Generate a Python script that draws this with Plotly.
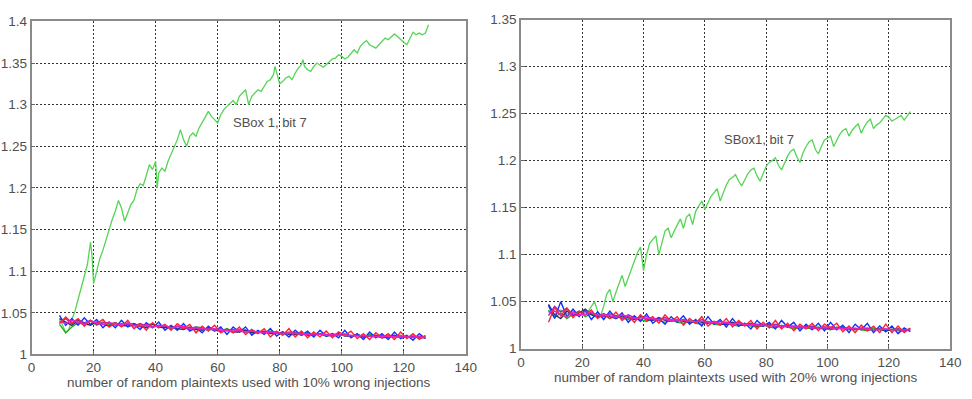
import plotly.graph_objects as go

# ---------------- data ----------------
X_TICKS = [0, 20, 40, 60, 80, 100, 120, 140]
Y_TICKS_L = [1.0, 1.05, 1.1, 1.15, 1.2, 1.25, 1.3, 1.35, 1.4]
Y_LABELS_L = ["1", "1.05", "1.1", "1.15", "1.2", "1.25", "1.3", "1.35", "1.4"]
Y_TICKS_R = [1.0, 1.05, 1.1, 1.15, 1.2, 1.25, 1.3, 1.35]
Y_LABELS_R = ["1", "1.05", "1.1", "1.15", "1.2", "1.25", "1.3", "1.35"]

X_BUNDLE = list(range(9, 128, 2))  # number of plaintexts for wrong-key curves

# left panel (10% wrong injections) wrong-key curves
L_BLUE = [1.047, 1.035, 1.043, 1.035, 1.044, 1.036, 1.042, 1.032, 1.039, 1.032, 1.041, 1.033, 1.036, 1.030, 1.038, 1.032, 1.039, 1.029, 1.035, 1.029,
          1.037, 1.028, 1.032, 1.026, 1.034, 1.028, 1.033, 1.024, 1.033, 1.027, 1.033, 1.023, 1.029, 1.024, 1.031, 1.022, 1.027, 1.021, 1.029, 1.023,
          1.028, 1.021, 1.029, 1.022, 1.025, 1.020, 1.029, 1.020, 1.025, 1.018, 1.027, 1.020, 1.025, 1.018, 1.027, 1.019, 1.023, 1.017, 1.025, 1.019]
L_GREEN = [1.036, 1.026, 1.033, 1.038, 1.036, 1.040, 1.035, 1.039, 1.036, 1.038, 1.034, 1.037, 1.036, 1.033, 1.035, 1.037, 1.032, 1.035, 1.031, 1.034,
           1.033, 1.030, 1.033, 1.032, 1.029, 1.031, 1.028, 1.031, 1.027, 1.030, 1.029, 1.026, 1.028, 1.025, 1.028, 1.027, 1.024, 1.027, 1.026, 1.023,
           1.026, 1.024, 1.025, 1.022, 1.025, 1.023, 1.025, 1.022, 1.024, 1.021, 1.024, 1.022, 1.020, 1.023, 1.021, 1.023, 1.020, 1.022, 1.020, 1.020]
L_BLACK = [1.043, 1.039, 1.035, 1.041, 1.037, 1.035, 1.039, 1.036, 1.034, 1.038, 1.035, 1.034, 1.037, 1.034, 1.032, 1.036, 1.033, 1.032, 1.034, 1.031,
           1.030, 1.033, 1.030, 1.029, 1.032, 1.029, 1.028, 1.030, 1.027, 1.027, 1.029, 1.026, 1.026, 1.028, 1.025, 1.025, 1.027, 1.024, 1.024, 1.026,
           1.023, 1.024, 1.025, 1.022, 1.023, 1.025, 1.022, 1.022, 1.024, 1.021, 1.022, 1.023, 1.020, 1.021, 1.023, 1.020, 1.021, 1.022, 1.020, 1.021]
L_RED = [1.037, 1.045, 1.038, 1.043, 1.034, 1.041, 1.037, 1.042, 1.033, 1.038, 1.033, 1.041, 1.031, 1.037, 1.029, 1.038, 1.032, 1.036, 1.029, 1.037,
         1.031, 1.036, 1.026, 1.034, 1.028, 1.035, 1.026, 1.030, 1.026, 1.033, 1.024, 1.030, 1.025, 1.031, 1.021, 1.028, 1.023, 1.031, 1.021, 1.028,
         1.020, 1.027, 1.021, 1.028, 1.020, 1.027, 1.023, 1.028, 1.019, 1.025, 1.018, 1.026, 1.020, 1.025, 1.018, 1.027, 1.019, 1.025, 1.018, 1.023]
L_PURPLE = [1.038, 1.043, 1.037, 1.042, 1.038, 1.041, 1.036, 1.038, 1.038, 1.035, 1.037, 1.036, 1.034, 1.037, 1.034, 1.033, 1.035, 1.034, 1.032, 1.034,
            1.031, 1.031, 1.033, 1.030, 1.031, 1.029, 1.031, 1.028, 1.030, 1.028, 1.027, 1.029, 1.026, 1.027, 1.027, 1.025, 1.026, 1.025, 1.026, 1.024,
            1.025, 1.023, 1.025, 1.024, 1.022, 1.024, 1.023, 1.022, 1.023, 1.022, 1.022, 1.021, 1.023, 1.021, 1.022, 1.021, 1.022, 1.020, 1.022, 1.021]
L_MAGENTA = [1.040, 1.037, 1.041, 1.039, 1.036, 1.040, 1.038, 1.036, 1.038, 1.037, 1.035, 1.038, 1.035, 1.034, 1.036, 1.033, 1.034, 1.035, 1.032, 1.033,
             1.034, 1.031, 1.032, 1.031, 1.030, 1.031, 1.029, 1.029, 1.028, 1.029, 1.027, 1.028, 1.027, 1.026, 1.027, 1.026, 1.025, 1.026, 1.025, 1.025,
             1.024, 1.025, 1.024, 1.023, 1.024, 1.023, 1.023, 1.023, 1.022, 1.023, 1.022, 1.022, 1.021, 1.022, 1.021, 1.021, 1.021, 1.021, 1.021, 1.020]

# right panel (20% wrong injections) wrong-key curves
R_BLUE = [1.046, 1.032, 1.050, 1.034, 1.042, 1.034, 1.041, 1.031, 1.039, 1.031, 1.040, 1.032, 1.038, 1.028, 1.035, 1.029, 1.037, 1.027, 1.032, 1.026,
          1.034, 1.028, 1.035, 1.026, 1.031, 1.024, 1.034, 1.026, 1.031, 1.023, 1.032, 1.024, 1.027, 1.021, 1.030, 1.024, 1.028, 1.021, 1.030, 1.023,
          1.028, 1.019, 1.026, 1.020, 1.027, 1.019, 1.028, 1.020, 1.025, 1.017, 1.026, 1.020, 1.027, 1.017, 1.024, 1.018, 1.024, 1.016, 1.022, 1.018]
R_GREEN = [1.041, 1.033, 1.038, 1.032, 1.037, 1.040, 1.034, 1.037, 1.033, 1.036, 1.032, 1.035, 1.033, 1.031, 1.034, 1.031, 1.029, 1.032, 1.030, 1.028,
           1.031, 1.028, 1.027, 1.030, 1.027, 1.026, 1.029, 1.026, 1.025, 1.028, 1.025, 1.024, 1.027, 1.024, 1.023, 1.026, 1.023, 1.022, 1.025, 1.023,
           1.021, 1.024, 1.022, 1.021, 1.023, 1.021, 1.020, 1.023, 1.021, 1.020, 1.022, 1.020, 1.019, 1.022, 1.020, 1.019, 1.021, 1.019, 1.019, 1.020]
R_BLACK = [1.047, 1.036, 1.032, 1.040, 1.035, 1.038, 1.042, 1.036, 1.034, 1.037, 1.034, 1.032, 1.035, 1.033, 1.031, 1.034, 1.031, 1.030, 1.033, 1.030,
           1.029, 1.031, 1.029, 1.028, 1.030, 1.028, 1.027, 1.029, 1.026, 1.026, 1.028, 1.025, 1.025, 1.027, 1.024, 1.024, 1.026, 1.024, 1.023, 1.025,
           1.023, 1.022, 1.024, 1.022, 1.022, 1.023, 1.021, 1.021, 1.023, 1.021, 1.020, 1.022, 1.020, 1.020, 1.021, 1.019, 1.020, 1.021, 1.019, 1.020]
R_RED = [1.028, 1.044, 1.035, 1.043, 1.033, 1.040, 1.036, 1.041, 1.032, 1.037, 1.032, 1.039, 1.030, 1.035, 1.028, 1.036, 1.030, 1.034, 1.027, 1.036,
         1.029, 1.034, 1.025, 1.032, 1.027, 1.034, 1.024, 1.029, 1.025, 1.032, 1.023, 1.030, 1.024, 1.030, 1.021, 1.028, 1.022, 1.030, 1.021, 1.027,
         1.019, 1.026, 1.021, 1.027, 1.019, 1.026, 1.022, 1.027, 1.018, 1.024, 1.017, 1.025, 1.019, 1.024, 1.017, 1.026, 1.017, 1.024, 1.017, 1.022]
R_PURPLE = [1.035, 1.045, 1.039, 1.043, 1.036, 1.035, 1.040, 1.038, 1.036, 1.034, 1.037, 1.035, 1.032, 1.036, 1.033, 1.033, 1.034, 1.031, 1.030, 1.033,
            1.030, 1.029, 1.031, 1.029, 1.028, 1.031, 1.028, 1.027, 1.029, 1.027, 1.026, 1.028, 1.026, 1.025, 1.026, 1.025, 1.024, 1.026, 1.024, 1.023,
            1.024, 1.023, 1.022, 1.024, 1.022, 1.021, 1.023, 1.022, 1.021, 1.022, 1.021, 1.021, 1.022, 1.020, 1.021, 1.021, 1.020, 1.021, 1.020, 1.021]
R_MAGENTA = [1.039, 1.040, 1.036, 1.034, 1.039, 1.036, 1.036, 1.039, 1.035, 1.036, 1.035, 1.033, 1.036, 1.034, 1.032, 1.033, 1.032, 1.032, 1.031, 1.031,
             1.030, 1.031, 1.030, 1.029, 1.029, 1.029, 1.028, 1.028, 1.027, 1.028, 1.026, 1.027, 1.026, 1.026, 1.025, 1.025, 1.025, 1.024, 1.024, 1.024,
             1.023, 1.023, 1.023, 1.022, 1.022, 1.023, 1.022, 1.021, 1.022, 1.021, 1.021, 1.021, 1.021, 1.020, 1.020, 1.021, 1.020, 1.020, 1.020, 1.020]

# correct key curve (SBox 1, bit 7), left panel
GX_L = [9, 10, 11, 12, 13, 14, 15, 16, 17, 18, 19, 19.5, 20, 21, 22, 23, 24, 25, 26, 27, 28, 29, 30, 31, 32, 33, 34, 35, 36, 37, 38, 39, 40, 40.5,
        41, 42, 43, 44, 45, 46, 47, 48, 49, 50, 51, 52, 53, 54, 55, 56, 57, 58, 59, 60, 61, 62, 63, 64, 65, 66, 67, 68, 69, 70, 71, 72, 73, 74,
        75, 76, 77, 78, 78.5, 79, 80, 81, 82, 83, 84, 85, 86, 87, 87.5, 88, 89, 90, 91, 92, 93, 94, 95, 96, 97, 98, 99, 100, 101, 102, 103, 104,
        105, 106, 107, 108, 109, 110, 111, 112, 113, 114, 115, 116, 117, 118, 119, 120, 121, 122, 123, 124, 125, 126, 127, 128]
GY_L = [1.042, 1.035, 1.026, 1.030, 1.042, 1.052, 1.066, 1.080, 1.094, 1.108, 1.135, 1.118, 1.085, 1.100, 1.115, 1.125, 1.138, 1.150, 1.162, 1.172,
        1.185, 1.176, 1.160, 1.170, 1.180, 1.185, 1.198, 1.205, 1.203, 1.215, 1.228, 1.222, 1.232, 1.200, 1.218, 1.224, 1.220, 1.232, 1.240, 1.248,
        1.258, 1.270, 1.258, 1.250, 1.262, 1.266, 1.262, 1.272, 1.278, 1.285, 1.292, 1.286, 1.282, 1.278, 1.288, 1.294, 1.298, 1.302, 1.305, 1.300,
        1.310, 1.314, 1.318, 1.300, 1.310, 1.314, 1.318, 1.316, 1.322, 1.328, 1.330, 1.336, 1.346, 1.340, 1.325, 1.328, 1.332, 1.334, 1.330, 1.338,
        1.344, 1.348, 1.354, 1.346, 1.342, 1.340, 1.346, 1.350, 1.348, 1.345, 1.348, 1.352, 1.355, 1.356, 1.360, 1.358, 1.355, 1.357, 1.362, 1.366,
        1.362, 1.370, 1.374, 1.377, 1.372, 1.370, 1.368, 1.372, 1.376, 1.380, 1.378, 1.382, 1.385, 1.382, 1.378, 1.375, 1.372, 1.380, 1.387, 1.384,
        1.386, 1.384, 1.386, 1.396]

# correct key curve (SBox1, bit 7), right panel
GX_R = [9, 11, 13, 15, 17, 19, 21, 22, 23, 24, 25, 26, 27, 28, 29, 30, 31, 32, 33, 34, 35, 36, 37, 38, 39, 40, 41, 42, 43, 44, 45, 46, 47, 48,
        49, 50, 51, 52, 53, 54, 55, 56, 57, 58, 59, 60, 61, 62, 63, 64, 65, 66, 67, 68, 69, 70, 71, 72, 73, 74, 75, 76, 77, 78, 79, 80, 81, 82,
        83, 84, 85, 86, 87, 88, 89, 90, 91, 92, 93, 94, 95, 96, 97, 98, 99, 100, 101, 102, 103, 104, 105, 106, 107, 108, 109, 110, 111, 112,
        113, 114, 115, 116, 117, 118, 119, 120, 121, 122, 123, 124, 125, 126, 127]
GY_R = [1.040, 1.036, 1.041, 1.037, 1.040, 1.036, 1.038, 1.040, 1.045, 1.050, 1.040, 1.035, 1.045, 1.058, 1.063, 1.050, 1.060, 1.070, 1.078, 1.066,
        1.075, 1.085, 1.095, 1.102, 1.108, 1.083, 1.100, 1.112, 1.116, 1.120, 1.100, 1.112, 1.125, 1.128, 1.118, 1.125, 1.132, 1.138, 1.128, 1.140,
        1.143, 1.132, 1.146, 1.152, 1.157, 1.148, 1.155, 1.162, 1.166, 1.170, 1.157, 1.166, 1.174, 1.180, 1.182, 1.185, 1.178, 1.173, 1.180, 1.186,
        1.190, 1.192, 1.184, 1.178, 1.186, 1.194, 1.198, 1.200, 1.203, 1.195, 1.190, 1.198, 1.205, 1.210, 1.212, 1.204, 1.198, 1.208, 1.215, 1.220,
        1.222, 1.212, 1.207, 1.215, 1.222, 1.224, 1.226, 1.215, 1.222, 1.228, 1.232, 1.234, 1.226, 1.232, 1.236, 1.239, 1.229, 1.236, 1.241, 1.244,
        1.234, 1.238, 1.240, 1.244, 1.248, 1.246, 1.242, 1.244, 1.246, 1.248, 1.243, 1.248, 1.252]

LEFT_TITLE = "number of random plaintexts used with 10% wrong injections"
RIGHT_TITLE = "number of random plaintexts used with 20% wrong injections"
LEFT_LABEL = "SBox 1, bit 7"
RIGHT_LABEL = "SBox1, bit 7"

# ---------------- styling ----------------
GREEN = "#55d455"
FONT = "Liberation Sans, Arial, sans-serif"
TXT = "#505050"
GRID = "#333333"
W, H = 972, 399

fig = go.Figure()

left_series = [L_GREEN, L_BLACK, L_BLUE, L_PURPLE, L_RED, L_MAGENTA]
right_series = [R_GREEN, R_BLACK, R_BLUE, R_PURPLE, R_RED, R_MAGENTA]
colors = ["#20b020", "#303060", "#1030ff", "#9030d0", "#ff2030", "#f020c0"]

fig.add_trace(go.Scatter(x=GX_L, y=GY_L, mode="lines", line=dict(color=GREEN, width=1.3),
                         xaxis="x", yaxis="y", showlegend=False))
for ys, c in zip(left_series, colors):
    fig.add_trace(go.Scatter(x=X_BUNDLE, y=ys, mode="lines", line=dict(color=c, width=1.4),
                             xaxis="x", yaxis="y", showlegend=False))

fig.add_trace(go.Scatter(x=GX_R, y=GY_R, mode="lines", line=dict(color=GREEN, width=1.3),
                         xaxis="x2", yaxis="y2", showlegend=False))
for ys, c in zip(right_series, colors):
    fig.add_trace(go.Scatter(x=X_BUNDLE, y=ys, mode="lines", line=dict(color=c, width=1.4),
                             xaxis="x2", yaxis="y2", showlegend=False))


def xaxis(dom, anchor):
    return dict(domain=dom, range=[0, 140], tickvals=X_TICKS, ticktext=[str(v) for v in X_TICKS],
                showgrid=True, gridcolor=GRID, griddash="2px,2px", gridwidth=1,
                showline=True, linecolor="#8a8a8a", linewidth=1.5, mirror=True,
                ticks="inside", ticklen=4, tickcolor="#666666", zeroline=False,
                ticklabelstandoff=0,
                tickfont=dict(family=FONT, size=13.5, color=TXT), anchor=anchor)


def yaxis(dom, rng, vals, labels, anchor):
    return dict(domain=dom, range=rng, tickvals=vals, ticktext=labels,
                showgrid=True, gridcolor=GRID, griddash="2px,2px", gridwidth=1,
                showline=True, linecolor="#8a8a8a", linewidth=1.5, mirror=True,
                ticks="inside", ticklen=4, tickcolor="#666666", zeroline=False,
                tickfont=dict(family=FONT, size=13.5, color=TXT), anchor=anchor)


fig.update_layout(
    width=W, height=H, margin=dict(l=0, r=0, t=0, b=0),
    paper_bgcolor="white", plot_bgcolor="white",
    xaxis=xaxis([28 / W, 469 / W], "y"),
    yaxis=yaxis([(H - 361) / H, (H - 15) / H], [1.0, 1.4], Y_TICKS_L, Y_LABELS_L, "x"),
    xaxis2=xaxis([525 / W, 961 / W], "y2"),
    yaxis2=yaxis([(H - 355) / H, (H - 13) / H], [1.0, 1.35], Y_TICKS_R, Y_LABELS_R, "x2"),
    annotations=[
        dict(x=77, y=1.279, xref="x", yref="y", text=LEFT_LABEL, showarrow=False,
             font=dict(family=FONT, size=13, color=TXT)),
        dict(x=77.6, y=1.222, xref="x2", yref="y2", text=RIGHT_LABEL, showarrow=False,
             font=dict(family=FONT, size=13, color=TXT)),
        dict(x=70, y=(H - 390) / H, xref="x", yref="paper", yanchor="middle", text=LEFT_TITLE,
             showarrow=False, font=dict(family=FONT, size=13.5, color=TXT)),
        dict(x=70, y=(H - 385) / H, xref="x2", yref="paper", yanchor="middle", text=RIGHT_TITLE,
             showarrow=False, font=dict(family=FONT, size=13.5, color=TXT)),
    ],
)

fig.write_html("out.html")
